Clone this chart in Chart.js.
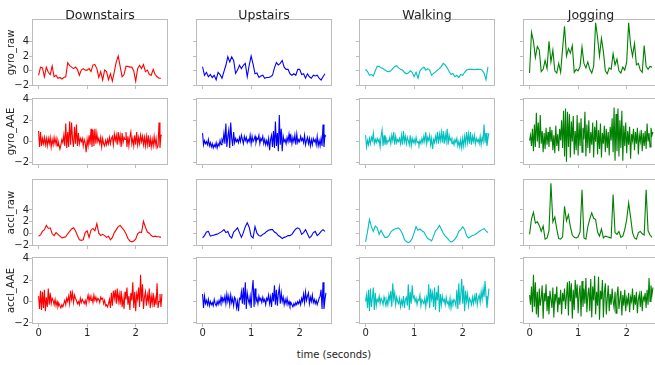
<!DOCTYPE html>
<html><head><meta charset="utf-8">
<script src="https://cdn.jsdelivr.net/npm/chart.js@4"></script>
<style>
body{margin:0;background:#fff;width:655px;height:365px;overflow:hidden;position:relative;}
canvas{position:absolute;}
#xl{position:absolute;left:234px;width:200px;top:349px;text-align:center;font:10px "DejaVu Sans";line-height:12px;color:#222;}
</style></head><body>
<div id="xl">time (seconds)</div>
<script>
const activities = ['Downstairs','Upstairs','Walking','Jogging'];
const features = ['gyro_raw','gyro_AAE','accl_raw','accl_AAE'];
const colors = ['#ff0000','#0000ff','#00bfbf','#008000'];
const xTicks = [0,1,2];
const yTicks = [-2,0,2,4];
const sampleStep = [0.04,0.02,0.04,0.02];
const yLimits = [[-2.05,7.0],[-2.2,4.1],[-2.05,9.2],[-2.1,4.15]];
const xLimits = [-0.135,2.665];

// gyro_raw
const downstairsGyroRaw = [-0.6,0.5,0.4,-0.8,0.5,-0.2,-0.5,0.65,-0.8,-0.6,-1.0,-0.9,-1.1,-0.9,-0.8,1.1,0.7,0.5,0.3,0.5,0.2,-0.6,0.1,0.3,0.1,0.1,0.3,-0.1,0.8,0.85,0.3,-0.9,-0.1,-1.25,0.1,-0.1,-1.2,-0.4,-1.4,-0.1,1.2,2.0,0.6,-0.8,-0.5,0.6,0.6,0.5,0.5,0.0,-1.4,0.3,0.75,0.3,0.85,-0.1,0.1,-0.5,-0.6,0.2,-0.5,-0.8,-1.0,-1.0];
const upstairsGyroRaw = [0.55,-0.6,-0.2,-0.8,-0.5,-0.9,-0.6,-1.2,-0.2,-0.5,-1.0,-0.1,0.75,1.9,1.2,1.9,1.4,-0.35,0.1,0.75,0.3,0.75,1.0,-0.8,0.75,2.0,0.9,-0.4,-0.3,-0.9,-0.7,-0.6,-1.0,-0.9,-0.9,-0.8,-0.6,0.4,1.1,0.8,1.0,1.4,0.5,0.2,0.2,-0.4,-0.6,-0.4,-0.6,0.2,0.2,-0.5,-0.4,-1.0,-0.4,-0.8,-1.0,-0.6,-0.7,-0.6,-1.0,-1.25,-0.8,-0.4];
const walkingGyroRaw = [0.2,-0.1,-0.6,-0.5,-0.7,0.0,0.6,0.6,0.4,0.3,0.1,-0.05,-0.1,0.0,0.3,0.6,0.7,0.4,0.2,0.1,-0.2,-0.4,-0.3,0.0,-0.2,-0.8,-0.2,-1.0,0.0,0.3,0.5,0.1,0.3,0.1,-0.6,-0.35,-0.15,0.1,0.3,0.6,1.0,0.8,0.4,-0.1,-0.5,-0.35,-0.8,-0.6,-0.9,-0.5,-0.6,-0.2,0.1,0.2,0.2,0.2,0.15,0.2,0.2,0.2,0.1,-0.3,-1.2,0.55];
const joggingGyroRaw = [-0.3,5.2,4.0,1.8,3.3,2.8,-0.1,0.2,1.4,0.3,4.0,1.2,2.8,0.0,-0.3,1.0,-0.2,3.0,6.0,2.0,3.0,2.4,3.4,-0.2,0.2,0.0,0.6,3.2,1.0,0.4,1.2,0.2,-0.3,0.6,6.5,4.5,2.0,4.4,2.6,0.0,-0.4,0.4,0.2,2.3,0.8,1.6,0.0,-0.3,0.5,0.1,1.2,6.5,3.5,2.0,3.7,0.8,1.0,0.1,-0.2,3.4,0.6,0.2,0.6,0.5];

// gyro_AAE
const downstairsGyroAAE = [1.0,-0.5,0.9,-0.4,0.3,-0.2,0.4,-0.3,0.3,-0.4,0.3,-0.2,0.4,-0.5,0.2,-0.3,0.4,-0.2,0.3,-0.4,0.1,-0.3,-0.7,-0.3,0.2,-0.1,0.6,-0.4,1.7,-0.6,0.9,-0.5,1.9,-0.3,1.8,0.2,-0.5,1.4,-0.2,1.6,-0.4,0.8,-0.2,0.3,0.0,0.3,-0.4,0.2,-0.1,-1.0,0.2,-0.4,0.6,-0.3,1.2,-0.5,1.1,-0.4,1.2,-0.2,0.8,0.0,0.3,-0.2,0.4,-0.5,0.3,-0.2,-0.4,0.1,-0.3,0.2,-0.2,0.4,-0.2,0.3,0.5,-0.3,0.7,0.1,0.6,-0.3,0.9,0.0,0.6,-0.5,0.8,-0.1,0.4,0.2,0.9,-0.5,0.5,-0.4,0.4,0.9,-0.2,0.3,-0.4,0.6,-0.3,0.9,-0.3,0.4,-0.2,0.6,0.0,0.5,-0.3,0.4,-0.4,0.5,-0.3,0.6,-0.5,0.3,-0.5,0.2,-0.4,0.5,-0.3,0.3,-0.6,-0.4,1.8,-0.6,0.6,0.6];
const upstairsGyroAAE = [0.8,-0.3,0.1,-0.2,0.0,-0.3,0.2,-0.4,-0.1,-0.5,-0.2,-0.6,-0.3,-0.5,-0.1,-0.6,-0.2,-0.4,0.1,-0.3,0.2,0.0,0.8,-0.2,1.7,-0.5,0.5,1.1,-0.6,1.8,0.3,-0.4,0.9,-0.1,0.3,0.0,0.2,-0.1,0.4,0.0,0.6,0.2,-0.2,0.5,0.1,0.4,-0.1,0.2,0.0,0.6,-0.2,0.5,0.0,0.2,0.5,-0.1,0.3,0.2,0.6,-0.2,0.3,0.1,0.5,-0.2,0.2,-0.3,0.1,-0.3,0.3,-0.8,0.2,0.6,-0.5,1.0,-0.6,1.9,-0.4,0.8,-0.9,2.5,-0.3,1.2,-0.9,0.5,0.0,0.2,-0.2,0.4,0.0,0.7,-0.1,0.5,-0.2,0.4,0.0,0.6,-0.3,0.7,-0.1,0.2,0.0,0.5,0.1,0.3,-0.1,0.6,-0.3,0.1,0.4,-0.2,0.3,-0.4,0.2,-0.3,0.3,0.0,0.2,-0.3,0.5,-0.4,0.1,-0.4,0.3,-0.4,1.6,-0.5,0.6,0.5];
const walkingGyroAAE = [0.6,-0.5,0.1,-0.3,0.3,-0.2,0.4,0.1,0.8,-0.2,0.2,-0.1,0.3,0.0,0.2,-0.5,0.5,1.1,-0.4,0.6,-0.3,0.3,-0.2,0.1,0.0,0.4,-0.2,0.6,0.1,0.9,-0.3,0.5,-0.1,0.2,0.0,0.3,-0.2,0.6,-0.3,1.0,0.0,0.5,-0.2,0.4,0.1,-0.3,0.6,-0.4,0.3,-0.1,0.2,-0.2,0.4,-0.1,0.0,-0.3,0.1,-0.2,0.3,-0.1,0.5,0.0,0.9,-0.2,0.4,0.1,0.6,-0.3,0.3,-0.7,0.2,-0.1,0.5,0.0,0.9,-0.2,0.7,0.1,0.9,-0.1,1.0,-0.2,0.7,0.0,1.2,-0.3,0.6,0.1,0.3,-0.2,0.1,-0.3,0.2,-0.1,0.3,-0.4,0.0,-0.5,0.2,-0.6,0.3,-0.4,0.5,-0.2,0.9,-0.1,0.7,-0.2,0.9,-0.3,0.5,0.0,0.6,-0.2,0.3,0.0,0.2,-0.2,0.5,-0.3,0.4,0.0,1.6,-0.1,0.8,-0.4,0.3,0.8];
const joggingGyroAAE = [0.1,0.6,-0.4,1.2,-0.9,1.6,-0.5,2.7,0.0,1.8,-0.6,2.5,-0.2,1.0,-1.0,0.8,-0.7,1.3,-0.3,0.9,-0.5,1.4,0.0,1.1,-0.8,0.6,-1.1,1.5,-0.4,0.7,-0.9,1.2,0.1,2.0,-0.6,2.9,-1.4,3.1,-1.9,2.8,-0.5,2.6,-1.5,1.9,0.0,2.4,-1.2,1.0,-0.8,2.5,-1.3,1.8,-0.4,2.2,-1.0,1.3,0.2,2.8,-1.4,1.6,-0.6,2.0,-1.1,0.9,-0.3,1.8,-1.5,1.4,0.0,2.0,-1.2,1.1,-0.7,1.7,-1.5,0.8,-0.2,1.5,-1.0,1.2,-0.6,0.9,-1.3,1.4,0.1,2.2,-1.0,3.2,-1.8,2.6,-0.9,3.1,-1.4,2.0,-0.6,2.9,-1.8,1.5,-0.4,1.8,-1.1,1.0,-0.3,1.4,-1.6,0.7,0.1,1.2,-0.8,0.9,-0.2,1.3,-1.2,0.6,0.0,1.1,-0.9,0.8,-0.4,1.0,-0.7,1.7,0.0,0.8,-0.5,1.3,0.6,0.9];

// accl_raw
const downstairsAcclRaw = [-0.4,-0.2,0.4,0.7,1.4,0.9,1.0,0.0,-0.3,0.2,-0.1,-0.4,-0.7,-0.6,-0.5,0.0,0.4,0.8,1.0,0.5,-0.3,-1.0,-1.1,-1.0,0.2,0.5,-0.6,0.6,0.9,0.5,1.7,0.1,-0.3,-0.1,-0.3,-0.6,-0.4,-1.0,-0.6,0.2,0.7,1.2,1.4,1.0,0.6,0.0,-0.8,-1.2,-1.35,-1.2,-0.9,0.0,0.3,0.2,2.1,1.1,0.3,0.1,-0.3,-0.5,-0.4,-0.5,-0.5,-0.6];
const upstairsAcclRaw = [-0.7,-0.3,0.3,0.4,-0.4,-0.3,-0.2,-0.1,0.0,0.2,0.4,0.7,0.2,0.4,-0.4,-0.7,0.3,0.6,1.0,0.2,-0.6,0.2,1.2,1.85,1.1,-0.4,-0.7,1.2,0.1,-0.3,-0.4,-0.1,0.1,0.4,0.6,0.7,0.7,0.3,0.1,-0.3,-0.5,-0.8,-0.6,-0.5,-0.3,-0.3,-0.1,0.4,0.8,1.0,0.8,-0.1,0.2,0.7,0.0,-0.7,-0.4,0.2,0.4,-0.3,0.0,0.4,0.7,0.4];
const walkingAcclRaw = [-1.35,0.3,2.4,1.2,0.4,1.3,1.0,-0.1,0.6,-0.1,-0.6,-0.6,-0.3,0.3,0.6,0.8,0.9,1.0,0.6,0.0,-0.95,-1.3,-1.5,-1.3,-0.8,0.2,1.2,0.6,0.8,0.5,0.3,-0.3,-0.8,-0.95,-1.2,-0.4,0.5,0.8,1.4,0.8,0.1,-0.4,-0.7,-1.1,-1.4,-1.2,-0.9,-0.4,0.4,0.7,1.2,0.7,-0.3,-0.7,-0.5,-0.3,-0.2,0.0,0.3,0.5,0.7,0.85,0.5,0.2];
const joggingAcclRaw = [-0.1,2.5,3.6,1.8,2.0,1.4,0.4,1.3,-0.9,-0.7,0.5,8.5,2.0,2.8,0.8,-0.8,-0.9,-0.5,4.6,2.2,3.2,1.2,-0.2,-0.6,-0.7,-0.5,0.3,7.4,-0.7,-0.9,1.2,2.5,3.5,2.6,2.4,0.3,-0.4,0.8,-0.7,-0.4,-0.5,-0.6,-0.7,6.6,0.2,-0.1,0.4,-0.6,-0.4,0.7,2.4,5.2,2.8,0.2,-0.7,-0.9,0.2,0.4,0.0,-0.2,7.4,0.5,-0.2,-0.6];

// accl_AAE
const downstairsAcclAAE = [0.5,-0.7,1.0,-0.8,0.9,-0.6,1.1,-0.9,0.4,-0.5,1.2,-0.3,0.8,-0.2,0.3,0.1,-0.3,0.2,-0.4,0.0,-0.5,-0.2,-0.4,-0.6,-0.3,-0.5,-0.2,0.1,-0.3,0.3,0.0,0.5,-0.2,1.0,0.2,0.8,-0.1,0.6,0.3,0.1,-0.2,0.0,-0.3,0.3,-0.1,0.2,0.0,-0.2,0.1,-0.3,0.2,0.6,0.0,0.5,0.1,0.3,-0.1,0.6,0.1,0.4,0.0,0.3,0.2,-0.1,0.4,0.2,0.3,-0.2,0.1,-0.4,-0.3,-0.5,-0.2,0.2,-0.6,0.8,-0.4,1.0,0.3,1.1,-0.2,1.2,0.0,0.7,-0.3,1.0,-0.5,0.3,-0.7,0.9,0.2,1.3,-0.3,0.5,-0.8,0.8,0.1,1.8,-0.6,0.9,-0.9,0.7,0.2,1.3,-0.5,2.5,0.0,1.6,-0.7,0.4,0.9,-0.4,0.6,0.0,1.2,-0.6,0.5,-0.2,0.8,-0.5,0.3,-0.3,1.7,-0.6,0.0,0.7,-0.5,0.7];
const upstairsAcclAAE = [0.7,-0.6,0.5,-0.2,0.1,-0.3,0.2,-0.4,0.0,-0.3,-0.1,-0.4,0.2,-0.2,-0.4,0.0,-0.3,0.1,-0.2,0.4,-0.1,0.3,0.0,0.5,-0.2,0.7,0.0,0.5,-0.3,0.6,-0.1,0.3,-0.4,0.4,0.2,-0.6,0.0,-0.9,0.3,0.2,0.9,-0.2,1.3,-0.3,1.8,-0.7,0.8,0.2,-0.2,0.5,-0.6,1.0,2.0,-0.5,1.2,0.0,0.3,-0.2,0.5,0.1,0.3,-0.1,0.4,0.0,0.2,-0.3,0.3,0.1,0.6,-0.2,0.4,-0.5,0.8,0.0,1.5,-0.3,1.1,-0.4,0.7,1.3,-0.2,0.8,0.0,0.4,-0.3,0.2,-0.2,0.3,-0.3,0.0,-0.4,-0.1,-0.3,-0.5,-0.2,-0.4,-0.1,-0.3,0.0,-0.2,0.1,-0.3,0.3,0.0,0.7,-0.1,0.9,0.1,0.5,0.8,-0.2,0.4,0.0,0.6,-0.1,0.2,-0.2,0.1,-0.3,0.0,0.3,0.5,1.1,-0.7,1.8,-0.7,0.2,0.8];
const walkingAcclAAE = [0.0,0.6,-0.6,1.1,-0.9,1.2,-0.5,0.3,1.3,-0.8,0.8,-0.4,0.2,0.0,0.5,-0.2,0.3,0.1,-0.3,0.4,0.0,-0.4,0.2,-0.3,0.6,0.1,1.0,-0.5,1.7,0.2,0.8,-0.3,0.4,0.0,-0.2,0.3,-0.5,0.1,-0.3,0.5,-0.6,0.2,0.4,-0.4,1.6,-0.8,0.9,-0.2,1.5,0.3,0.5,0.0,0.3,-0.3,0.2,0.1,0.6,-0.4,0.2,0.0,-0.2,0.3,-0.5,0.4,0.0,1.6,-0.6,1.2,0.2,0.8,-0.5,1.3,-0.8,0.9,0.1,1.5,-1.0,0.7,-0.3,0.5,0.0,0.2,-0.3,0.4,-0.2,0.0,-0.5,0.3,-0.6,0.1,-0.2,0.2,0.0,-0.4,1.1,-0.7,1.7,-0.3,0.6,2.1,-0.2,1.5,-0.9,1.0,0.0,0.7,-0.4,0.3,0.1,-0.3,0.4,-0.2,0.5,0.0,0.8,-0.3,0.3,0.6,-0.1,0.9,0.2,1.2,0.4,1.9,0.5,-0.6,0.3,1.2];
const joggingAcclAAE = [0.6,-0.3,1.4,-1.0,2.5,-0.5,1.8,-1.2,0.9,-1.5,1.2,-0.4,0.3,1.5,-1.6,0.8,0.0,1.6,-0.9,0.5,-1.2,1.0,0.2,-0.6,1.3,-1.5,0.7,0.1,1.4,-1.0,0.4,-0.3,1.1,-1.2,0.8,0.0,1.2,-0.7,0.5,1.8,-1.3,1.9,0.0,1.7,-1.6,1.1,-0.8,2.0,0.3,1.6,-1.1,0.7,1.5,-1.4,1.9,-0.5,1.2,-0.2,2.2,-1.0,0.6,1.3,-0.9,2.1,-1.5,1.4,0.1,2.4,-1.2,0.9,-0.4,2.3,-1.7,1.0,0.2,2.0,-1.5,0.8,1.7,-1.2,0.3,1.5,-0.9,0.7,-0.3,1.2,0.0,-0.6,0.9,-1.1,0.5,1.4,-0.7,0.2,1.0,-1.3,0.6,-0.4,1.1,-0.9,0.3,-0.2,0.8,-1.0,0.4,0.0,1.2,-0.8,0.6,-0.3,0.9,-1.1,0.2,0.7,-0.5,1.0,-0.9,0.4,0.1,0.8,-0.6,1.1,-0.3,2.2,0.0,1.5,0.6,1.3];

const series = [
  [downstairsGyroRaw, upstairsGyroRaw, walkingGyroRaw, joggingGyroRaw],
  [downstairsGyroAAE, upstairsGyroAAE, walkingGyroAAE, joggingGyroAAE],
  [downstairsAcclRaw, upstairsAcclRaw, walkingAcclRaw, joggingAcclRaw],
  [downstairsAcclAAE, upstairsAcclAAE, walkingAcclAAE, joggingAcclAAE]
];

const colLeft = [32,196,359,523];
const rowTop = [19,98,179,257];
const W = 136, H = 67;
const FONT = 'DejaVu Sans';
const TXT = '#222222';
const EDGE = '#bcbcbc';

const framePlugin = {
  id: 'frame',
  afterDatasetsDraw(chart, args, opts) {
    const {ctx, chartArea: a} = chart;
    ctx.save();
    ctx.strokeStyle = EDGE;
    ctx.lineWidth = 1;
    ctx.strokeRect(a.left + 0.5, a.top + 0.5, a.right - a.left - 1, a.bottom - a.top - 1);
    if (opts.title) {
      ctx.fillStyle = TXT;
      ctx.font = '12.5px "' + FONT + '"';
      ctx.textAlign = 'center';
      ctx.textBaseline = 'alphabetic';
      ctx.fillText(opts.title, (a.left + a.right) / 2, a.top - 0.5);
    }
    ctx.restore();
  }
};

function fmt(v) { return v < 0 ? '\u2212' + Math.abs(v) : String(v); }

for (let r = 0; r < 4; r++) {
  for (let c = 0; c < 4; c++) {
    const padL = c === 0 ? 32 : 8, padR = 6;
    const padT = r === 0 ? 19 : 10, padB = r === 3 ? 22 : 10;
    const w = W + padL + padR, h = H + padT + padB;
    const cv = document.createElement('canvas');
    cv.width = w; cv.height = h;
    cv.style.left = (colLeft[c] - padL) + 'px';
    cv.style.top = (rowTop[r] - padT) + 'px';
    cv.style.width = w + 'px'; cv.style.height = h + 'px';
    document.body.appendChild(cv);
    const vals = series[r][c];
    const pts = vals.map((v, i) => ({x: i * sampleStep[r], y: v}));
    new Chart(cv, {
      type: 'line',
      data: {datasets: [{data: pts, borderColor: colors[c], borderWidth: 1.1, pointRadius: 0, tension: 0, fill: false}]},
      options: {
        responsive: false, animation: false, devicePixelRatio: 1, events: [],
        layout: {padding: {left: 0, right: padR, top: padT, bottom: 0}},
        plugins: {legend: {display: false}, tooltip: {enabled: false}, frame: {title: r === 0 ? activities[c] : ''}},
        scales: {
          x: {
            type: 'linear', min: xLimits[0], max: xLimits[1],
            afterBuildTicks: s => { s.ticks = xTicks.map(v => ({value: v})); },
            afterFit: s => { s.height = padB; },
            grid: {display: true, drawOnChartArea: false, drawTicks: true, tickLength: 3, color: EDGE},
            border: {display: false},
            ticks: {display: r === 3, padding: 0, color: TXT, font: {family: FONT, size: 10}, maxRotation: 0, autoSkip: false, callback: v => fmt(v)}
          },
          y: {
            type: 'linear', min: yLimits[r][0], max: yLimits[r][1],
            afterBuildTicks: s => { s.ticks = yTicks.map(v => ({value: v})); },
            afterFit: s => { s.width = padL; },
            grid: {display: true, drawOnChartArea: false, drawTicks: true, tickLength: 3, color: EDGE},
            border: {display: false},
            ticks: {display: c === 0, padding: 0, color: TXT, font: {family: FONT, size: 10}, autoSkip: false, callback: v => fmt(v)},
            title: {display: c === 0, text: features[r], color: TXT, font: {family: FONT, size: 10}, padding: {top: 5, bottom: 0}}
          }
        }
      },
      plugins: [framePlugin]
    });
  }
}
</script>
</body></html>
